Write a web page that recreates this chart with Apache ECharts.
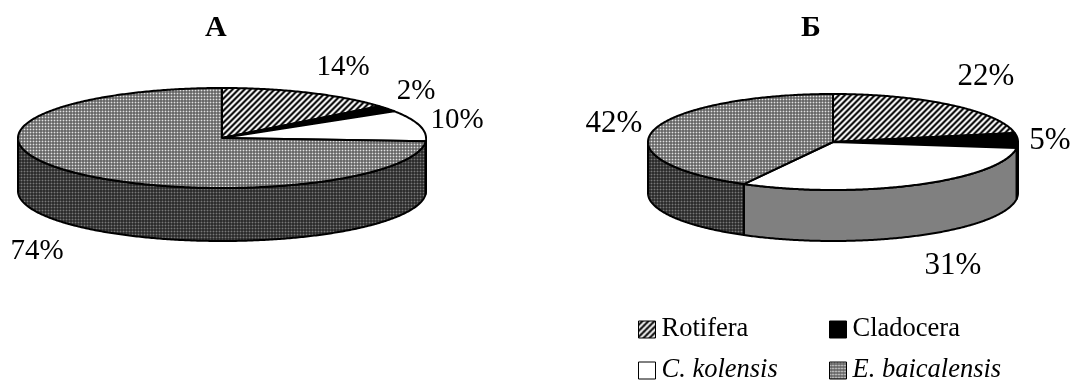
<!DOCTYPE html>
<html>
<head>
<meta charset="utf-8">
<style>html,body{margin:0;padding:0;background:#fff}#chart{width:1074px;height:380px}</style>
<script src="https://cdn.jsdelivr.net/npm/echarts@6/dist/echarts.min.js"></script>
</head>
<body>
<div id="chart"></div>
<script>
// Zooplankton composition at two sites, percent of total
const categories = ['Rotifera', 'Cladocera', 'C. kolensis', 'E. baicalensis'];
const sharesA = [14, 2, 10, 74];
const sharesB = [22, 5, 31, 42];
const pieTitles = ['А', 'Б'];

// Disc geometry for each tilted pie
const discs = [
  { cx: 222, cy: 138, rx: 204, ry: 50, depth: 53, fontSize: 29,
    labels: [[343, 67], [416, 91], [457, 120], [37, 251]] },
  { cx: 833, cy: 142, rx: 185, ry: 48, depth: 51, fontSize: 31,
    labels: [[986, 77], [1050, 141], [953, 266], [614, 124]] }
];

// Fine repeating textures used as slice fills
function tile(size, shade) {
  const c = document.createElement('canvas');
  c.width = c.height = size;
  const ctx = c.getContext('2d');
  const img = ctx.createImageData(size, size);
  for (let y = 0; y < size; y++) for (let x = 0; x < size; x++) {
    const v = shade(x, y), i = (y * size + x) * 4;
    img.data[i] = img.data[i + 1] = img.data[i + 2] = v;
    img.data[i + 3] = 255;
  }
  ctx.putImageData(img, 0, 0);
  return { image: c, repeat: 'repeat' };
}
const grid = (hi, mid, lo) => (x, y) => (x === 0 && y === 0) ? hi : (x === 0 || y === 0) ? mid : lo;
const stripes = tile(6, (x, y) => 128 + 127 * Math.cos(2 * Math.PI * (x + y) / 6));
const dotsLight = tile(3, grid(225, 140, 105));
const dotsDark = tile(3, grid(120, 70, 45));

const topFills = [stripes, '#000', '#fff', dotsLight];
const sideFills = [stripes, '#000', '#808080', dotsDark];
const swatchFills = topFills;

const STROKE = 2;
const toRad = (pct) => pct / 100 * 2 * Math.PI;

function rimPoint(d, angle, drop) {
  return [d.cx + d.rx * Math.sin(angle), d.cy - d.ry * Math.cos(angle) + drop];
}
function arc(d, a0, a1, drop) {
  const n = Math.max(2, Math.ceil(Math.abs(a1 - a0) / 0.01));
  const pts = [];
  for (let i = 0; i <= n; i++) pts.push(rimPoint(d, a0 + (a1 - a0) * i / n, drop));
  return pts;
}

function renderSlice(catIndex) {
  return function (params, api) {
    const d = discs[api.value(0)];
    const a0 = toRad(api.value(1));
    const a1 = toRad(api.value(1) + api.value(2));
    const children = [];

    // Outer wall: only the front half of the rim faces the viewer
    const w0 = Math.max(a0, Math.PI / 2), w1 = Math.min(a1, Math.PI * 1.5);
    if (w1 > w0) {
      children.push({
        type: 'polygon',
        shape: { points: arc(d, w0, w1, 0).concat(arc(d, w1, w0, d.depth)) },
        style: { fill: sideFills[catIndex], stroke: '#000', lineWidth: STROKE, lineJoin: 'round' }
      });
    }
    // Top face
    children.push({
      type: 'polygon',
      shape: { points: [[d.cx, d.cy]].concat(arc(d, a0, a1, 0)) },
      style: { fill: topFills[catIndex], stroke: '#000', lineWidth: STROKE, lineJoin: 'round' }
    });
    // Percentage label
    const at = d.labels[catIndex];
    children.push({
      type: 'text',
      x: at[0], y: at[1],
      z2: 10,
      style: {
        text: api.value(2) + '%',
        fill: '#000',
        font: d.fontSize + 'px "Liberation Serif"',
        align: 'center',
        verticalAlign: 'middle'
      }
    });
    return { type: 'group', children };
  };
}

// One series per taxon, holding its slice in each pie
const series = categories.map((name, i) => {
  const startOf = (shares) => shares.slice(0, i).reduce((s, v) => s + v, 0);
  return {
    type: 'custom',
    name,
    coordinateSystem: 'none',
    silent: true,
    animation: false,
    renderItem: renderSlice(i),
    data: [
      [0, startOf(sharesA), sharesA[i]],
      [1, startOf(sharesB), sharesB[i]]
    ]
  };
});

// Key entries laid out as a two-by-two block under the second pie
const legendSlots = [[638, 316], [829, 316], [638, 357], [829, 357]];
const legend = categories.map((name, i) => ({
  left: legendSlots[i][0],
  top: legendSlots[i][1],
  orient: 'horizontal',
  selectedMode: false,
  icon: 'rect',
  itemWidth: 17,
  itemHeight: 17,
  padding: 0,
  data: [{
    name,
    itemStyle: { color: swatchFills[i], borderColor: '#000', borderWidth: 1 },
    textStyle: {
      fontFamily: 'Liberation Serif',
      fontSize: 26.5,
      fontStyle: i >= 2 ? 'italic' : 'normal',
      color: '#000',
      padding: [4, 0, 0, 1]
    }
  }]
}));

const titleText = { fontFamily: 'Liberation Serif', fontWeight: 'bold', fontSize: 30, color: '#000' };

const chart = echarts.init(document.getElementById('chart'), null, { renderer: 'canvas' });
chart.setOption({
  backgroundColor: '#fff',
  animation: false,
  title: [
    { text: pieTitles[0], left: 200, top: 8, textStyle: titleText },
    { text: pieTitles[1], left: 796, top: 8, textStyle: titleText }
  ],
  legend,
  series
});
</script>
</body>
</html>
